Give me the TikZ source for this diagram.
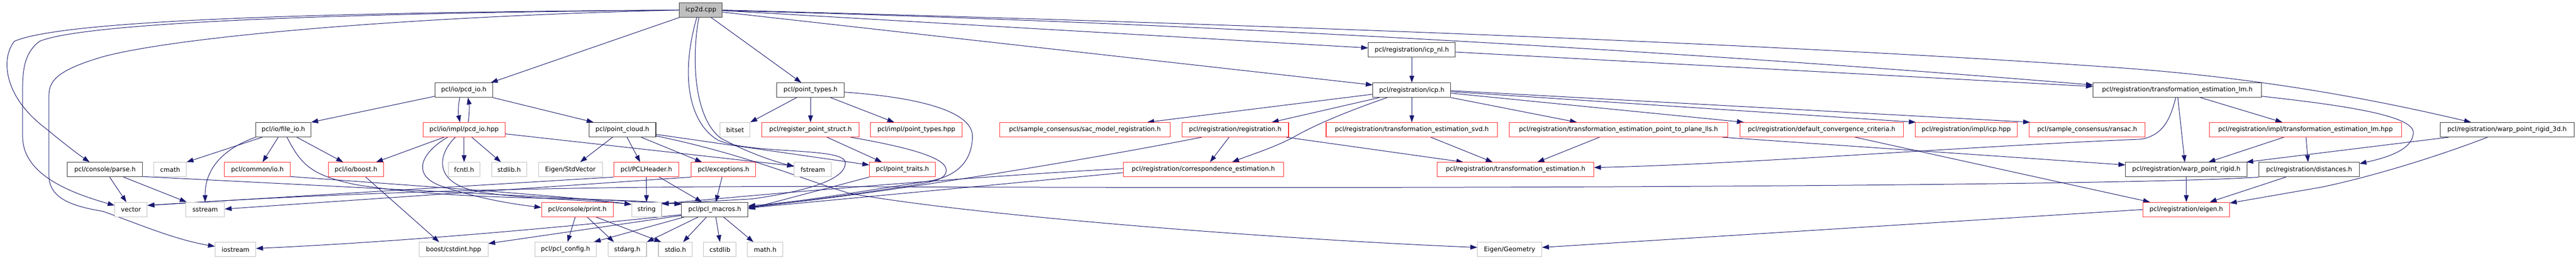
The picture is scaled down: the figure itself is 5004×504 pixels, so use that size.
\documentclass[tikz,border=0pt]{standalone}
\usepackage{fontspec}
\setmainfont{DejaVu Sans}
\usetikzlibrary{arrows.meta,calc}
\definecolor{edgec}{HTML}{191970}
\definecolor{redb}{HTML}{FF2A2A}
\definecolor{grayb}{HTML}{BFBFBF}
\definecolor{rootf}{HTML}{BFBFBF}
\pgfdeclarelayer{bg}
\pgfsetlayers{bg,main}
\newcommand{\gn}[6]{%
  \pgfmathsetmacro\gnw{(#3-#2)*0.75}%
  \node[#5, minimum width=\gnw pt] (#1) at ({(#2+#3)/2},#4) {#6};}
\def\rowa{19.5}
\def\rowb{97}
\def\rowc{174.8}
\def\rowd{251.7}
\def\rowe{329}
\def\rowf{406.5}
\def\rowg{484}
\begin{document}
\begin{tikzpicture}[x=0.75pt,y=-0.75pt,
  box/.style={rectangle, inner xsep=0pt, inner ysep=0pt, minimum height=21pt,
    font=\fontsize{9.2}{11}\selectfont, text=black, line width=0.8pt, fill=white},
  blk/.style={box, draw=black!80},
  redn/.style={box, draw=redb},
  gry/.style={box, draw=grayb},
  rootn/.style={box, draw=black!80, fill=rootf},
  ed/.style={draw=edgec, line width=0.75pt, -{Triangle[length=10pt,width=7pt]}}]
\useasboundingbox (0,0) rectangle (5004,504);

% nodes
\gn{icp}{1320}{1403}{\rowa}{rootn}{icp2d.cpp}
\gn{icpnl}{2658}{2827}{\rowb}{blk}{pcl/registration/icp\_nl.h}
\gn{pcdio}{845}{957}{\rowc}{blk}{pcl/io/pcd\_io.h}
\gn{ptypes}{1509}{1640}{\rowc}{blk}{pcl/point\_types.h}
\gn{icph}{2667}{2818}{\rowc}{blk}{pcl/registration/icp.h}
\gn{telm}{4066}{4393}{\rowc}{blk}{pcl/registration/transformation\_estimation\_lm.h}
\gn{fileio}{497}{604}{\rowd}{blk}{pcl/io/file\_io.h}
\gn{pcdhpp}{822}{981}{\rowd}{redn}{pcl/io/impl/pcd\_io.hpp}
\gn{pcloud}{1144}{1274}{\rowd}{blk}{pcl/point\_cloud.h}
\gn{bitset}{1399}{1457}{\rowd}{gry}{bitset}
\gn{rps}{1480}{1669}{\rowd}{redn}{pcl/register\_point\_struct.h}
\gn{ptypeshpp}{1691}{1869}{\rowd}{redn}{pcl/impl/point\_types.hpp}
\gn{sacreg}{1942}{2273}{\rowd}{redn}{pcl/sample\_consensus/sac\_model\_registration.h}
\gn{reg}{2296}{2503}{\rowd}{redn}{pcl/registration/registration.h}
\gn{tesvd}{2576}{2909}{\rowd}{redn}{pcl/registration/transformation\_estimation\_svd.h}
\gn{tep2p}{2932}{3356}{\rowd}{redn}{pcl/registration/transformation\_estimation\_point\_to\_plane\_lls.h}
\gn{dcc}{3380}{3697}{\rowd}{redn}{pcl/registration/default\_convergence\_criteria.h}
\gn{icphpp}{3720}{3919}{\rowd}{redn}{pcl/registration/impl/icp.hpp}
\gn{ransac}{3942}{4167}{\rowd}{redn}{pcl/sample\_consensus/ransac.h}
\gn{telmhpp}{4292}{4665}{\rowd}{redn}{pcl/registration/impl/transformation\_estimation\_lm.hpp}
\gn{wprtd}{4740}{5000}{\rowd}{blk}{pcl/registration/warp\_point\_rigid\_3d.h}
\gn{parse}{131}{277}{\rowe}{blk}{pcl/console/parse.h}
\gn{cmath}{299}{362}{\rowe}{gry}{cmath}
\gn{commonio}{436}{564}{\rowe}{redn}{pcl/common/io.h}
\gn{ioboost}{638}{745}{\rowe}{redn}{pcl/io/boost.h}
\gn{fcntl}{871}{932}{\rowe}{gry}{fcntl.h}
\gn{stdlib}{955}{1023}{\rowe}{gry}{stdlib.h}
\gn{stdvec}{1046}{1170}{\rowe}{gry}{Eigen/StdVector}
\gn{pclheader}{1192}{1319}{\rowe}{redn}{pcl/PCLHeader.h}
\gn{exc}{1343}{1468}{\rowe}{redn}{pcl/exceptions.h}
\gn{fstream}{1543}{1615}{\rowe}{gry}{fstream}
\gn{ptraits}{1689}{1817}{\rowe}{redn}{pcl/point\_traits.h}
\gn{corr}{2182}{2493}{\rowe}{redn}{pcl/registration/correspondence\_estimation.h}
\gn{te}{2792}{3096}{\rowe}{redn}{pcl/registration/transformation\_estimation.h}
\gn{wpr}{4129}{4365}{\rowe}{blk}{pcl/registration/warp\_point\_rigid.h}
\gn{dist}{4388}{4583}{\rowe}{blk}{pcl/registration/distances.h}
\gn{vector}{223}{286}{\rowf}{gry}{vector}
\gn{sstream}{361}{436}{\rowf}{gry}{sstream}
\gn{print}{1052}{1191}{\rowf}{redn}{pcl/console/print.h}
\gn{string}{1227}{1285}{\rowf}{gry}{string}
\gn{macros}{1324}{1453}{\rowf}{blk}{pcl/pcl\_macros.h}
\gn{eigen}{4163}{4331}{\rowf}{redn}{pcl/registration/eigen.h}
\gn{iostream}{418}{497}{\rowg}{gry}{iostream}
\gn{cstdint}{814}{948}{\rowg}{gry}{boost/cstdint.hpp}
\gn{config}{1039}{1158}{\rowg}{gry}{pcl/pcl\_config.h}
\gn{stdarg}{1181}{1256}{\rowg}{gry}{stdarg.h}
\gn{stdio}{1279}{1345}{\rowg}{gry}{stdio.h}
\gn{cstdlib}{1367}{1430}{\rowg}{gry}{cstdlib}
\gn{math}{1452}{1521}{\rowg}{gry}{math.h}
\gn{geom}{2870}{2995}{\rowg}{gry}{Eigen/Geometry}

\begin{pgfonlayer}{bg}
% root
\draw[ed] (icp.west) .. controls (600,24) and (120,40) .. (28,80) .. controls (3,110) and (3,185) .. (90,250) .. controls (120,275) and (150,298) .. ($(parse.north)+(-30,0)$);
\draw[ed] (icp.west) .. controls (600,26) and (160,46) .. (77,80) .. controls (50,100) and (44,130) .. (44,170) -- (44,265) .. controls (44,340) and (140,375) .. ($(vector.west)+(0,-8)$);
\draw[ed] (icp.west) .. controls (800,32) and (350,70) .. (200,110) .. controls (115,135) and (95,155) .. (95,185) -- (95,340) .. controls (95,385) and (140,400) .. (200,410) .. controls (270,435) and (340,465) .. ($(iostream.west)+(0,-6)$);
\draw[ed] (icp.south west) -- ($(pcdio.north east)+(-4,0)$);
\draw[ed] ($(icp.south)+(20,0)$) -- ($(ptypes.north)+(-18,0)$);
\draw[ed] ($(icp.south)+(-4,0)$) .. controls (1342,120) and (1350,230) .. (1400,268) .. controls (1450,295) and (1500,312) .. ($(fstream.west)+(0,-6)$);
\draw[ed] ($(icp.south)+(-8,0)$) .. controls (1320,150) and (1340,240) .. (1395,272) .. controls (1460,300) and (1640,285) .. (1642,315) .. controls (1644,350) and (1560,372) .. (1460,386) -- ($(string.east)+(0,-11)$);
\draw[ed] ($(icp.east)+(0,1)$) -- ($(icpnl.west)+(0,-4)$);
\draw[ed] ($(icp.east)+(0,4)$) -- ($(icph.west)+(0,-10)$);
\draw[ed] ($(icp.east)+(0,1)$) .. controls (2400,45) and (3400,110) .. ($(telm.west)+(0,-10)$);
\draw[ed] (icp.east) .. controls (2500,48) and (3500,88) .. (4110,131) .. controls (4380,150) and (4600,190) .. ($(wprtd.north)+(-70,0)$);
% icp_nl
\draw[ed] (icpnl) -- (icph);
\draw[ed] ($(icpnl.east)+(0,4)$) -- ($(telm.west)+(0,-7)$);
% icp.h
\draw[ed] ($(icph.west)+(0,8)$) -- ($(sacreg.north east)+(-45,0)$);
\draw[ed] ($(icph.south west)+(13,0)$) -- ($(reg.north east)+(-33,0)$);
\draw[ed] ($(icph.south west)+(28,0)$) .. controls (2620,215) and (2560,240) .. (2520,262) .. controls (2480,285) and (2430,300) .. ($(corr.north)+(56,0)$);
\draw[ed] (icph) -- (tesvd);
\draw[ed] (icph.south east) -- ($(tep2p.north)+(-81,0)$);
\draw[ed] ($(icph.east)+(0,6)$) -- ($(dcc.north west)+(8,0)$);
\draw[ed] ($(icph.east)+(0,3)$) -- ($(icphpp.north west)+(2,0)$);
\draw[ed] ($(icph.east)+(0,1)$) -- ($(ransac.north west)+(2,0)$);
% registration.h
\draw[ed] ($(reg.south)+(-12,0)$) -- ($(corr.north)+(13,0)$);
\draw[ed] ($(reg.south east)+(-5,0)$) -- ($(te.north west)+(51,0)$);
\draw[ed] ($(reg.south west)+(39,0)$) .. controls (2100,312) and (1700,378) .. ($(macros.east)+(0,-5)$);
% correspondence
\draw[ed] ($(corr.west)+(0,6)$) -- ($(macros.east)+(0,-3)$);
\draw[ed] ($(corr.west)+(0,-2)$) .. controls (1900,342) and (1500,375) .. ($(string.east)+(0,-11)$);
% svd, p2p
\draw[ed] ($(tesvd.south)+(37,0)$) -- ($(te.north west)+(108,0)$);
\draw[ed] ($(tep2p.south)+(-37,0)$) -- ($(te.north west)+(195,0)$);
\draw[ed] ($(tep2p.south east)+(-11,0)$) -- ($(wpr.west)+(0,-9)$);
% dcc
\draw[ed] ($(dcc.south east)+(-94,0)$) -- ($(eigen.north west)+(14,0)$);
% lm
\draw[ed] ($(telm.south)+(-3,0)$) .. controls (4215,235) and (4200,262) .. (4160,270) .. controls (3800,285) and (3400,318) .. ($(te.east)+(0,-4)$);
\draw[ed] ($(telm.south)+(1,0)$) -- ($(wpr.north)+(-3,0)$);
\draw[ed] ($(telm.south)+(45,0)$) -- ($(telmhpp.north)+(-45,0)$);
\draw[ed] ($(telm.east)+(0,12)$) .. controls (4560,205) and (4690,225) .. (4688,258) .. controls (4686,290) and (4640,305) .. ($(dist.north east)+(0,3)$);
\draw[ed] ($(telmhpp.south)+(-42,0)$) -- ($(wpr.north)+(43,0)$);
\draw[ed] ($(telmhpp.south)+(1,0)$) -- ($(dist.north)+(-2,0)$);
% warp 3d
\draw[ed] ($(wprtd.south west)+(17,0)$) -- ($(wpr.north east)+(-2,0)$);
\draw[ed] ($(wprtd.south)+(-38,0)$) .. controls (4750,298) and (4620,340) .. (4510,363) -- ($(eigen.north east)+(0,2)$);
\draw[ed] (wpr) -- (eigen);
\draw[ed] ($(dist.south)+(-45,0)$) -- ($(eigen.north east)+(-39,0)$);
\draw[ed] (dist.south west) .. controls (4200,358) and (3000,368) .. (1640,362) .. controls (1000,360) and (600,378) .. ($(vector.east)+(0,-8)$);
\draw[ed] (eigen.west) -- ($(geom.east)+(0,-4)$);
% point_cloud
\draw[ed] ($(pcloud.south)+(-19,0)$) -- ($(stdvec.north)+(19,0)$);
\draw[ed] ($(pcloud.south)+(9,0)$) -- ($(pclheader.north)+(-12,0)$);
\draw[ed] ($(pcloud.south east)+(-29,0)$) -- ($(exc.north)+(-42,0)$);
\draw[ed] ($(pcloud.east)+(0,9)$) -- ($(ptraits.west)+(0,-9)$);
\draw[ed] ($(pcloud.east)+(0,12)$) .. controls (1450,300) and (1550,345) .. (1650,375) .. controls (1900,420) and (2500,465) .. ($(geom.west)+(0,-4)$);
% header, exceptions
\draw[ed] (pclheader) -- (string);
\draw[ed] ($(pclheader.south)+(25,0)$) -- ($(macros.north)+(-25,0)$);
\draw[ed] (pclheader.south west) -- ($(vector.east)+(0,-8)$);
\draw[ed] ($(exc.south)+(-3,0)$) -- ($(macros.north)+(2,0)$);
\draw[ed] (exc.south west) -- ($(sstream.east)+(0,-1)$);
% point types
\draw[ed] ($(ptypes.south)+(-27,0)$) -- (bitset.north east);
\draw[ed] (ptypes) -- (rps);
\draw[ed] ($(ptypes.south)+(39,0)$) -- ($(ptypeshpp.north)+(-43,0)$);
\draw[ed] ($(ptypes.east)+(0,4)$) .. controls (1800,190) and (1890,220) .. (1889,265) .. controls (1888,320) and (1850,345) .. (1800,352) .. controls (1650,375) and (1550,392) .. ($(macros.east)+(0,-7)$);
\draw[ed] ($(rps.south)+(32,0)$) -- ($(ptraits.north)+(-40,0)$);
\draw[ed] ($(rps.south east)+(-17,0)$) .. controls (1760,285) and (1838,305) .. (1838,330) .. controls (1838,348) and (1815,352) .. (1770,360) .. controls (1650,378) and (1550,392) .. ($(macros.east)+(0,-4)$);
\draw[ed] (ptraits.south west) -- ($(macros.east)+(0,-1)$);
% print
\draw[ed] ($(print.south)+(-4,0)$) -- ($(config.north)+(4,0)$);
\draw[ed] ($(print.south)+(19,0)$) -- ($(stdarg.north)+(-26,0)$);
\draw[ed] ($(print.south east)+(-34,0)$) -- ($(stdio.north west)+(6,0)$);
% macros
\draw[ed] ($(macros.west)+(0,10)$) .. controls (1100,440) and (800,468) .. ($(iostream.east)+(0,-2)$);
\draw[ed] ($(macros.south west)+(0,-3)$) -- ($(cstdint.north east)+(0,3)$);
\draw[ed] ($(macros.south west)+(6,0)$) -- ($(config.north east)+(-5,0)$);
\draw[ed] ($(macros.south)+(-32,0)$) -- (stdarg.north east);
\draw[ed] ($(macros.south)+(-16,0)$) -- ($(stdio.north)+(15,0)$);
\draw[ed] ($(macros.south)+(2,0)$) -- (cstdlib.north);
\draw[ed] ($(macros.south)+(17,0)$) -- ($(math.north)+(-23,0)$);
% io boost
\draw[ed] ($(ioboost.south)+(19,0)$) -- ($(cstdint.north)+(-28,0)$);
% file_io
\draw[ed] ($(fileio.south)+(-10,0)$) -- ($(commonio.north)+(10,0)$);
\draw[ed] ($(fileio.south)+(26,0)$) -- ($(ioboost.north)+(-25,0)$);
\draw[ed] ($(fileio.south west)+(13,0)$) -- (cmath.north east);
\draw[ed] (fileio.south west) .. controls (430,290) and (398,330) .. (sstream.north);
\draw[ed] ($(fileio.south)+(7,0)$) .. controls (585,320) and (605,340) .. (690,358) .. controls (900,392) and (1150,380) .. ($(macros.west)+(0,-10)$);
\draw[ed] ($(commonio.south east)+(0,-1)$) .. controls (800,360) and (1100,380) .. ($(string.west)+(0,-10)$);
% pcd_io
\draw[ed] ($(pcdio.south)+(-8,0)$) .. controls (890,205) and (890,220) .. ($(pcdhpp.north)+(-8,0)$);
\draw[ed] ($(pcdhpp.north)+(8,0)$) .. controls (912,220) and (912,205) .. ($(pcdio.south)+(8,0)$);
\draw[ed] (pcdhpp.south) -- (fcntl.north);
\draw[ed] ($(pcdhpp.south)+(15,0)$) -- ($(stdlib.north)+(-16,0)$);
\draw[ed] ($(pcdhpp.south west)+(41,0)$) -- ($(ioboost.north east)+(-15,0)$);
\draw[ed] ($(pcdhpp.south west)+(48,0)$) .. controls (820,295) and (795,340) .. (860,362) .. controls (930,385) and (990,395) .. ($(print.west)+(0,-4)$);
\draw[ed] ($(pcdhpp.south west)+(63,0)$) .. controls (850,300) and (840,355) .. (930,372) .. controls (1010,386) and (1150,388) .. ($(string.west)+(0,-10)$);
\draw[ed] ($(pcdhpp.east)+(0,8)$) -- ($(fstream.west)+(0,-7)$);
\draw[ed] (pcdio.south east) -- ($(pcloud.north)+(-56,0)$);
\draw[ed] ($(pcdio.west)+(0,12)$) -- (fileio.north east);
% parse
\draw[ed] ($(parse.south)+(9,0)$) -- ($(vector.north)+(-9,0)$);
\draw[ed] ($(parse.south)+(36,0)$) -- ($(sstream.north)+(-36,0)$);
\draw[ed] ($(parse.south east)+(0,-1)$) -- ($(macros.west)+(0,-11)$);
\end{pgfonlayer}
\end{tikzpicture}
\end{document}
